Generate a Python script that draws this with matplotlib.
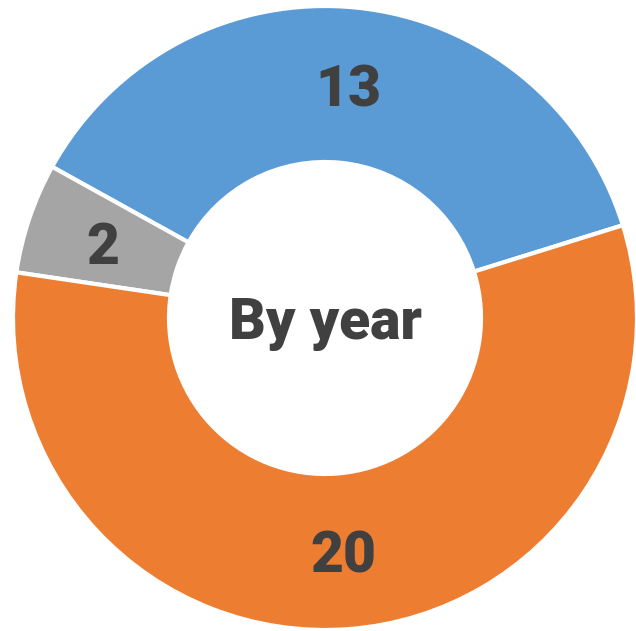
#!/usr/bin/env python3
import matplotlib
matplotlib.use('Agg')
import matplotlib.pyplot as plt

# data
labels = ['Blue', 'Gray', 'Orange']
values = [13, 2, 20]
colors = ['#5B9BD5', '#A5A5A5', '#ED7D31']
center_text = 'By year'

plt.rcParams['font.family'] = ['Roboto', 'DejaVu Sans']


def main():
    fig = plt.figure(figsize=(6.36, 6.31), dpi=100)
    ax = fig.add_axes([0, 0, 1, 1])

    wedges, texts, autotexts = ax.pie(
        values, colors=colors, startangle=17.3, counterclock=True,
        radius=1.0, pctdistance=0.75,
        autopct=lambda p: '%d' % round(p * sum(values) / 100.0),
        wedgeprops=dict(width=0.5, edgecolor='white', linewidth=3),
        textprops=dict(fontsize=41, fontweight='heavy', color='#404040'))
    for t in autotexts:
        t.set_va('center_baseline')

    ax.text(0, 0, center_text, ha='center', va='center_baseline',
            fontsize=41, fontweight='heavy', color='#404040')

    ax.set_aspect('equal')
    ax.set_xlim(-1.0417, 0.9968)
    ax.set_ylim(-1.0032, 1.0192)
    ax.axis('off')

    fig.savefig('out.png', dpi=100)


if __name__ == '__main__':
    main()
